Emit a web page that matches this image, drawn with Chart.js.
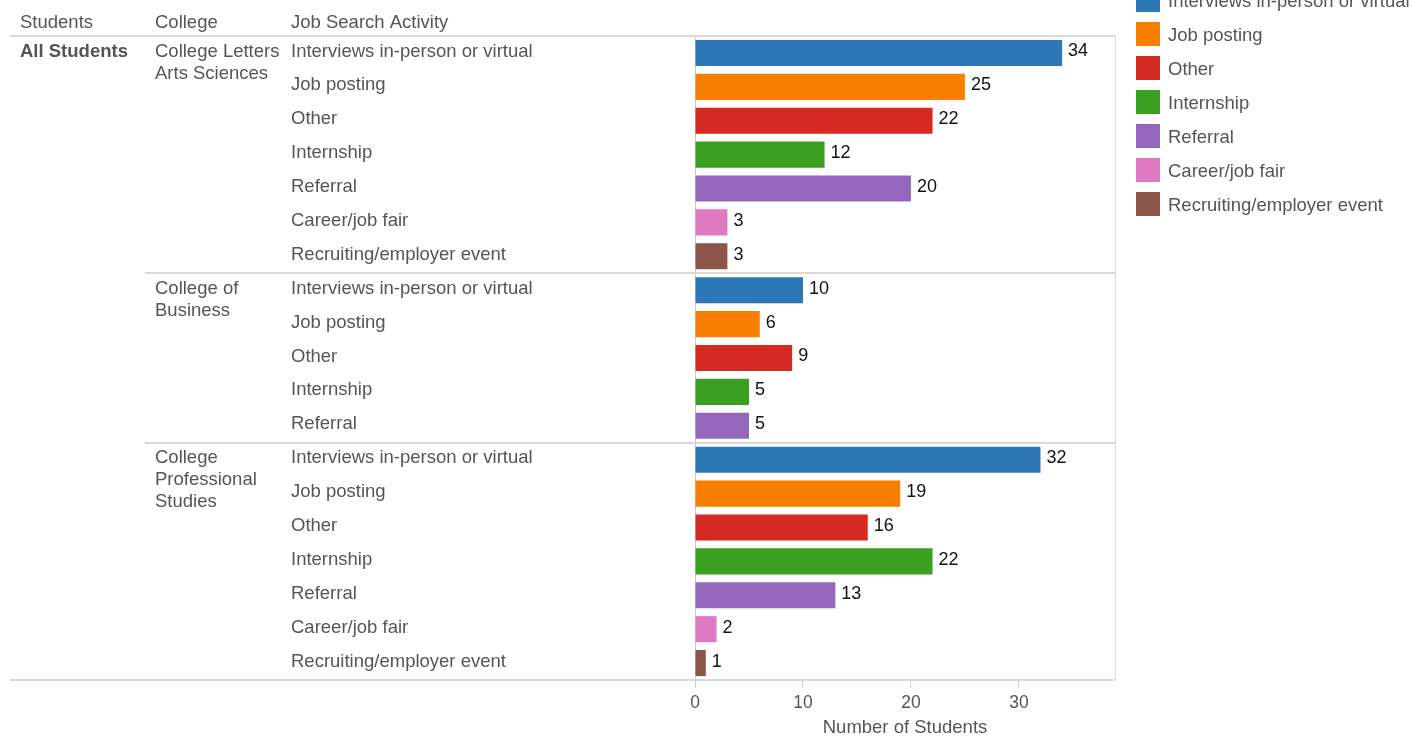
<!DOCTYPE html>
<html><head><meta charset="utf-8">
<script src="https://cdn.jsdelivr.net/npm/chart.js@4/dist/chart.umd.min.js"></script>
<style>html,body{margin:0;padding:0;background:#fff;overflow:hidden}</style>
</head><body>
<canvas id="c" width="1413" height="737" style="width:1413px;height:737px;display:block"></canvas>
<script>
// ---- data ----
const headers = ["Students", "College", "Job Search Activity"];
const studentGroup = "All Students";
const colleges = [["College Letters", "Arts Sciences"], ["College of", "Business"], ["College", "Professional", "Studies"]];
const activities = ["Interviews in-person or virtual", "Job posting", "Other", "Internship", "Referral", "Career/job fair", "Recruiting/employer event"];
const clasValues = [34, 25, 22, 12, 20, 3, 3];
const businessValues = [10, 6, 9, 5, 5];
const cpsValues = [32, 19, 16, 22, 13, 2, 1];
const xTicks = [0, 10, 20, 30];
const xTitle = "Number of Students";
const activityColors = ["#2c78b7", "#f97f00", "#d42a21", "#3b9f22", "#9467bd", "#df79c2", "#8b5649"];

const groups = [clasValues, businessValues, cpsValues];
const labels = [], values = [], barColors = [], groupStart = [];
groups.forEach(g => {
  groupStart.push(labels.length);
  g.forEach((v, i) => { labels.push(activities[i]); values.push(v); barColors.push(activityColors[i]); });
});

const FONT = "'Liberation Sans', Arial, sans-serif";
const FS = 18.5;
const GRAY = "#555555";
const LINE = "#d9d9d9";
const TY = -1.5;

const overlay = {
  id: 'overlay',
  afterDraw(chart) {
    const ctx = chart.ctx, ca = chart.chartArea;
    const ys = chart.scales.y, xs = chart.scales.x;
    const step = ys.getPixelForValue(1) - ys.getPixelForValue(0);
    ctx.save();
    // lines
    ctx.strokeStyle = LINE; ctx.lineWidth = 2;
    const hline = (x0, x1, y) => { ctx.beginPath(); ctx.moveTo(x0, y); ctx.lineTo(x1, y); ctx.stroke(); };
    hline(10, ca.right, ca.top);
    hline(10, ca.right, ca.bottom);
    groupStart.slice(1).forEach(s => hline(145, ca.right, Math.round(ys.getPixelForValue(s) - step / 2)));
    ctx.lineWidth = 1;
    ctx.beginPath(); ctx.moveTo(ca.right + 0.5, ca.top); ctx.lineTo(ca.right + 0.5, ca.bottom); ctx.stroke();
    // headers
    ctx.font = FS + "px " + FONT; ctx.fillStyle = GRAY; ctx.textBaseline = 'middle'; ctx.textAlign = 'left';
    const hx = [20, 155, 291];
    headers.forEach((h, i) => ctx.fillText(h, hx[i], 23));
    // student group
    const firstY = ys.getPixelForValue(0) + TY;
    ctx.font = "bold " + FS + "px " + FONT;
    ctx.fillText(studentGroup, 20, firstY);
    // colleges
    ctx.font = FS + "px " + FONT;
    colleges.forEach((lines, gi) => {
      const y0 = ys.getPixelForValue(groupStart[gi]) + TY;
      lines.forEach((ln, li) => ctx.fillText(ln, 155, y0 + li * 22));
    });
    // value labels
    ctx.fillStyle = "#111"; ctx.font = "18px " + FONT;
    values.forEach((v, i) => ctx.fillText(String(v), xs.getPixelForValue(v) + 6, ys.getPixelForValue(i) + TY));
    // legend
    ctx.font = FS + "px " + FONT;
    activities.forEach((a, i) => {
      const cy = i * 34;
      ctx.fillStyle = activityColors[i];
      ctx.fillRect(1136, cy - 12, 24, 24);
      ctx.fillStyle = GRAY;
      ctx.fillText(a, 1168, cy + 2);
    });
    ctx.restore();
  }
};

new Chart(document.getElementById('c'), {
  type: 'bar',
  data: { labels, datasets: [{ data: values, backgroundColor: barColors, barPercentage: 0.77, categoryPercentage: 1 }] },
  options: {
    indexAxis: 'y', responsive: false, animation: false, devicePixelRatio: 1,
    layout: { padding: { left: 291, right: 298, top: 36, bottom: 0 } },
    plugins: { legend: { display: false }, tooltip: { enabled: false } },
    scales: {
      y: {
        grid: { display: false },
        border: { display: true, color: '#cccccc', width: 1 },
        ticks: { crossAlign: 'far', color: GRAY, font: { family: FONT, size: FS }, autoSkip: false, padding: 0, labelOffset: TY },
        afterFit: s => { s.width = 404; }
      },
      x: {
        min: 0, max: 38.9,
        afterBuildTicks: s => { s.ticks = xTicks.map(v => ({ value: v })); },
        grid: { drawOnChartArea: false, drawTicks: true, tickLength: 8, color: '#cccccc' },
        border: { display: false },
        ticks: { color: GRAY, font: { family: FONT, size: 17.5 }, padding: 5, maxRotation: 0 },
        title: { display: true, text: xTitle, color: GRAY, font: { family: FONT, size: FS, lineHeight: 1 }, padding: { top: 0, bottom: 0 } },
        afterFit: s => { s.height = 57; }
      }
    }
  },
  plugins: [overlay]
});
</script>
</body></html>
